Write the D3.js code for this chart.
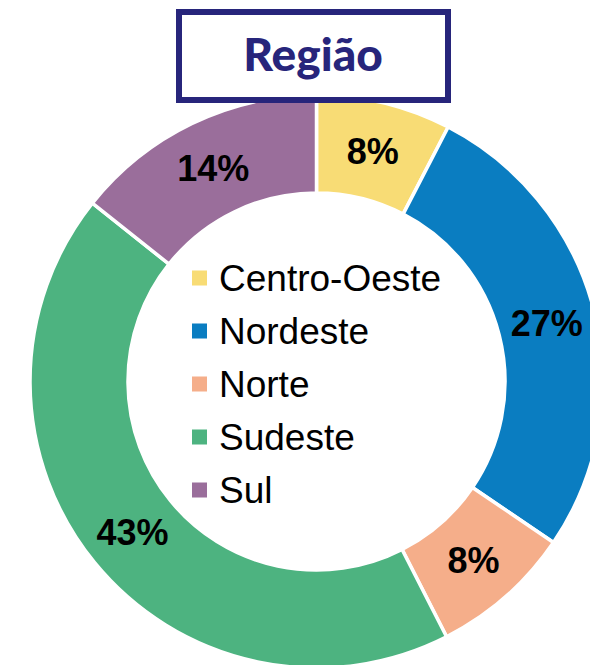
<!DOCTYPE html>
<html>
<head>
<meta charset="utf-8">
<script src="https://cdn.jsdelivr.net/npm/d3@7"></script>
<style>
	html, body { margin: 0; padding: 0; background: #ffffff; }
	svg { display: block; }
</style>
</head>
<body>
<script>
	/******************/
	/*     data       */
	/******************/
	var regions = ["Centro-Oeste", "Nordeste", "Norte", "Sudeste", "Sul"];
	var shares = [7.6, 26.9, 8.0, 43.2, 14.3]; // percent
	var colors = ["#F8DC75", "#0A7DC1", "#F5AE8A", "#4DB380", "#9A6E9B"];
	var title = "Região";

	/******************/
	/*   d3 init var  */
	/******************/
	var width = 590,
		height = 665;
	var cx = 316.5,
		cy = 381.5;
	var outerR = 286.5,
		innerR = 188.5;

	var data = regions.map(function(d, i) {
		return { name: d, value: shares[i], color: colors[i] };
	});

	var svg = d3.select("body")
		.append("svg")
		.attr("width", width)
		.attr("height", height);

	//pie starts at 12 o'clock, clockwise, keep the given order
	var pie = d3.pie().sort(null).value(function(d) { return d.value; });
	var arc = d3.arc().innerRadius(innerR).outerRadius(outerR);

	var ring = svg.append("g")
		.attr("transform", "translate(" + cx + "," + cy + ")");

	var slices = ring.selectAll("g.slice")
		.data(pie(data))
		.enter()
		.append("g")
		.attr("class", "slice");

	slices.append("path")
		.attr("d", arc)
		.attr("fill", function(d) { return d.data.color; })
		.attr("stroke", "#ffffff")
		.attr("stroke-width", 3.5);

	//percent labels on the centroid of each slice
	slices.append("text")
		.attr("transform", function(d) { return "translate(" + arc.centroid(d) + ")"; })
		.attr("text-anchor", "middle")
		.attr("dy", "0.36em")
		.attr("font-family", "Liberation Sans, Arial, sans-serif")
		.attr("font-weight", "bold")
		.attr("font-size", 36)
		.attr("fill", "#000000")
		.text(function(d) { return Math.round(d.data.value) + "%"; });

	/******************/
	/*    legend      */
	/******************/
	var legend = svg.append("g")
		.attr("transform", "translate(192,278)");

	var rows = legend.selectAll("g.row")
		.data(data)
		.enter()
		.append("g")
		.attr("class", "row")
		.attr("transform", function(d, i) { return "translate(0," + (i * 53) + ")"; });

	rows.append("rect")
		.attr("x", 0)
		.attr("y", -7.5)
		.attr("width", 15)
		.attr("height", 15)
		.attr("fill", function(d) { return d.color; });

	rows.append("text")
		.attr("x", 27)
		.attr("dy", "0.36em")
		.attr("font-family", "Liberation Sans, Arial, sans-serif")
		.attr("font-size", 37)
		.attr("fill", "#000000")
		.text(function(d) { return d.name; });

	/******************/
	/*    title box   */
	/******************/
	svg.append("rect")
		.attr("x", 179)
		.attr("y", 12)
		.attr("width", 269)
		.attr("height", 88)
		.attr("fill", "#ffffff")
		.attr("stroke", "#27257B")
		.attr("stroke-width", 6);

	svg.append("text")
		.attr("x", 313)
		.attr("y", 71)
		.attr("text-anchor", "middle")
		.attr("font-family", "Lato, Nunito, sans-serif")
		.attr("font-weight", 900)
		.attr("font-size", 46)
		.attr("fill", "#27257B")
		.text(title);
</script>
</body>
</html>
